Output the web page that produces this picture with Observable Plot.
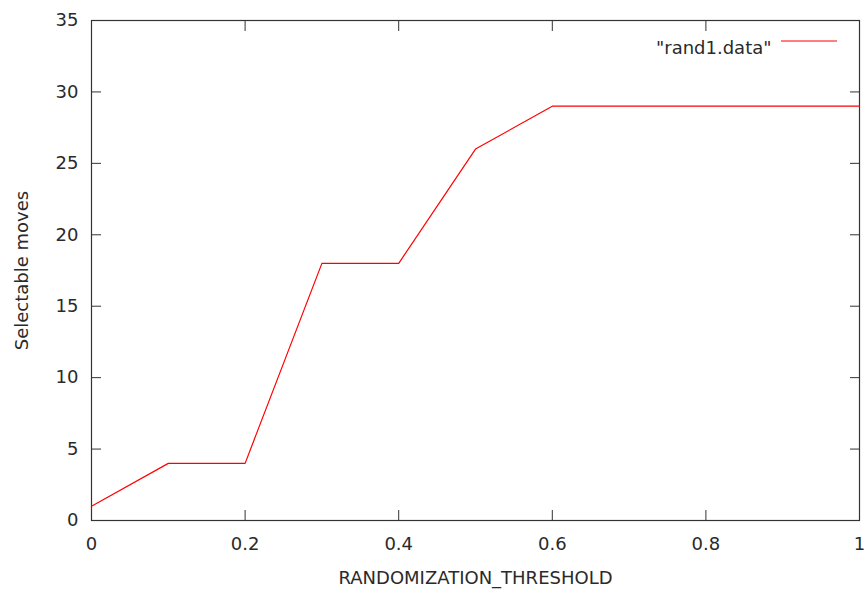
<!DOCTYPE html>
<html>
<head>
<meta charset="utf-8">
<script src="https://cdn.jsdelivr.net/npm/d3@7"></script>
<script src="https://cdn.jsdelivr.net/npm/@observablehq/plot@0.6"></script>
<style>
  html, body { margin: 0; padding: 0; background: #fff; }
</style>
</head>
<body>
<div id="chart"></div>
<script>
const thresholds = [0, 0.1, 0.2, 0.3, 0.4, 0.5, 0.6, 0.7, 0.8, 0.9, 1.0];
const moves = [1, 4, 4, 18, 18, 26, 29, 29, 29, 29, 29];
const xTicks = [0, 0.2, 0.4, 0.6, 0.8, 1];
const yTicks = [0, 5, 10, 15, 20, 25, 30, 35];
const seriesName = "\"rand1.data\"";

const data = thresholds.map((t, i) => ({t, m: moves[i]}));
const ink = "#333";
const txt = "#2a2a2a";

const legendLine = (index, scales, values, dims) => {
  const x2 = dims.width - dims.marginRight - 22;
  const y = dims.marginTop + 21;
  const g = d3.create("svg:line")
    .attr("x1", x2 - 56).attr("x2", x2)
    .attr("y1", y).attr("y2", y)
    .attr("stroke", "#ff0000").attr("stroke-width", 1.2);
  return g.node();
};

const chart = Plot.plot({
  width: 865,
  height: 589,
  marginLeft: 91,
  marginRight: 6,
  marginTop: 20,
  marginBottom: 69,
  style: {fontFamily: "DejaVu Sans", fontSize: "18px", color: ink, background: "#fff"},
  x: {domain: [0, 1]},
  y: {domain: [0, 35]},
  marks: [
    Plot.axisX(xTicks, {anchor: "bottom", tickSize: -10, tickPadding: 27, tickFormat: d => String(d), label: null, stroke: ink, fill: txt, fontSize: 18}),
    Plot.axisX(xTicks, {anchor: "top", tickSize: -10, tickFormat: () => "", label: null, stroke: ink}),
    Plot.axisY(yTicks, {anchor: "left", tickSize: -10, tickPadding: 23, tickFormat: d => String(d), label: null, stroke: ink, fill: txt, fontSize: 18}),
    Plot.axisY(yTicks, {anchor: "right", tickSize: -10, tickFormat: () => "", label: null, stroke: ink}),
    Plot.frame({stroke: ink, strokeWidth: 1.2}),
    Plot.line(data, {x: "t", y: "m", stroke: "#ff0000", strokeWidth: 1.2}),
    Plot.text([seriesName], {frameAnchor: "top-right", dx: -88, dy: 21, textAnchor: "end", fill: txt, fontSize: 18}),
    legendLine,
    Plot.text(["RANDOMIZATION_THRESHOLD"], {frameAnchor: "bottom", textAnchor: "middle", dy: 63, fill: txt, fontSize: 18}),
    Plot.text(["Selectable moves"], {frameAnchor: "left", textAnchor: "middle", dx: -69, rotate: -90, fill: txt, fontSize: 18})
  ]
});
document.getElementById("chart").appendChild(chart);
</script>
</body>
</html>
